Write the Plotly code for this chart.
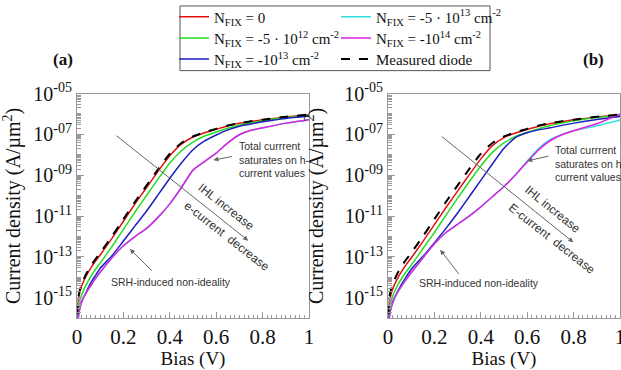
import plotly.graph_objects as go

# ---------------- data (log10 of current density, A/um^2) ----------------
bias_v = [0.001, 0.002, 0.005, 0.01, 0.02, 0.04, 0.06, 0.08, 0.1, 0.15, 0.2, 0.25,
          0.3, 0.35, 0.4, 0.45, 0.5, 0.55, 0.6, 0.65, 0.7, 0.75, 0.8, 0.9, 1.0]

measured_log = [-15.8, -15.5, -15.05, -14.72, -14.32, -13.82, -13.43, -13.1, -12.8, -12.0, -11.15, -10.3,
                -9.5, -8.7, -7.95, -7.42, -7.1, -6.9, -6.73, -6.57, -6.45, -6.36, -6.28, -6.14, -6.03]

# panel (a)
red_a_log = [-15.9, -15.6, -15.15, -14.82, -14.42, -13.92, -13.53, -13.2, -12.9, -12.1, -11.25, -10.4,
             -9.6, -8.8, -8.05, -7.48, -7.13, -6.92, -6.75, -6.59, -6.46, -6.37, -6.29, -6.15, -6.04]
green_a_log = [-16.3, -16.0, -15.6, -15.25, -14.85, -14.35, -13.95, -13.6, -13.3, -12.5, -11.65, -10.8,
               -9.98, -9.18, -8.4, -7.8, -7.38, -7.08, -6.88, -6.7, -6.55, -6.44, -6.33, -6.18, -6.06]
blue_a_log = [-16.7, -16.4, -15.95, -15.6, -15.2, -14.7, -14.25, -13.9, -13.55, -12.95, -12.22, -11.48,
              -10.75, -9.95, -9.15, -8.4, -7.75, -7.32, -7.03, -6.78, -6.6, -6.49, -6.38, -6.22, -6.1]
cyan_a_log = [-16.8, -16.5, -16.05, -15.65, -15.2, -14.75, -14.4, -14.05, -13.75, -13.05, -12.45, -12.0,
              -11.6, -11.05, -10.4, -9.6, -8.75, -8.33, -7.92, -7.42, -7.02, -6.8, -6.68, -6.45, -6.28]
magenta_a_log = [-16.8, -16.5, -16.05, -15.65, -15.2, -14.75, -14.4, -14.05, -13.75, -13.05, -12.45, -12.0,
                 -11.6, -11.05, -10.4, -9.6, -8.75, -8.33, -7.92, -7.42, -7.02, -6.8, -6.68, -6.45, -6.28]

# panel (b)
red_b_log = [-16.05, -15.75, -15.3, -14.97, -14.57, -14.07, -13.68, -13.35, -13.05, -12.25, -11.42, -10.58,
             -9.78, -8.98, -8.2, -7.55, -7.16, -6.93, -6.76, -6.6, -6.47, -6.38, -6.29, -6.15, -6.04]
green_b_log = [-16.4, -16.1, -15.65, -15.32, -14.92, -14.42, -14.03, -13.7, -13.4, -12.6, -11.8, -10.95,
               -10.12, -9.32, -8.55, -7.88, -7.42, -7.1, -6.9, -6.72, -6.57, -6.45, -6.34, -6.18, -6.06]
blue_b_log = [-16.75, -16.45, -16.0, -15.65, -15.25, -14.72, -14.3, -13.95, -13.6, -12.98, -12.3, -11.6,
              -10.85, -10.05, -9.25, -8.45, -7.68, -7.15, -6.92, -6.78, -6.68, -6.56, -6.45, -6.27, -6.12]
cyan_b_log = [-16.8, -16.5, -16.05, -15.65, -15.2, -14.75, -14.4, -14.07, -13.77, -13.05, -12.35, -11.8,
              -11.4, -11.0, -10.55, -10.05, -9.55, -8.98, -8.3, -7.68, -7.25, -7.0, -6.82, -6.58, -6.3]
magenta_b_log = [-16.8, -16.5, -16.05, -15.65, -15.2, -14.75, -14.4, -14.07, -13.77, -13.05, -12.35, -11.8,
                 -11.4, -11.0, -10.55, -10.05, -9.55, -8.98, -8.35, -7.75, -7.3, -7.02, -6.82, -6.48, -6.0]

series_names = [
    "N<sub>FIX</sub> = 0",
    "N<sub>FIX</sub> = -5 · 10<sup>12</sup> cm<sup>-2</sup>",
    "N<sub>FIX</sub> = -10<sup>13</sup> cm<sup>-2</sup>",
    "N<sub>FIX</sub> = -5 · 10<sup>13</sup> cm<sup>-2</sup>",
    "N<sub>FIX</sub> = -10<sup>14</sup> cm<sup>-2</sup>",
    "Measured diode",
]
y_tick_exponents = [-5, -7, -9, -11, -13, -15]
y_tick_labels = ["10<sup>-05</sup>", "10<sup>-07</sup>", "10<sup>-09</sup>",
                 "10<sup>-11</sup>", "10<sup>-13</sup>", "10<sup>-15</sup>"]
x_tick_values = [0, 0.2, 0.4, 0.6, 0.8, 1]
x_tick_labels = ["0", "0.2", "0.4", "0.6", "0.8", "1"]

# ---------------- styling ----------------
W, H = 621, 370
SERIF = "Liberation Serif"
SANS = "Liberation Sans"
colors = ["#e01010", "#22dd22", "#1c1cc0", "#33e0e0", "#e020e0", "#000000"]
legend_ids = ["legend", "legend2", "legend3", "legend4", "legend5", "legend6"]
# legend cell positions (px): column left, row centre
legend_pos = [(174, 15), (174, 36.5), (174, 57.5), (336, 15), (336, 36.5), (336, 57.5)]

fig = go.Figure()

panels = [
    ("x", "y", [red_a_log, green_a_log, blue_a_log, cyan_a_log, magenta_a_log, measured_log], True),
    ("x2", "y2", [red_b_log, green_b_log, blue_b_log, cyan_b_log, magenta_b_log, measured_log], False),
]
for xa, ya, logs, show in panels:
    for i, lg in enumerate(logs):
        is_meas = (i == 5)
        fig.add_trace(go.Scatter(
            x=bias_v, y=[10 ** v for v in lg], mode="lines",
            name=series_names[i], legend=legend_ids[i], showlegend=show,
            xaxis=xa, yaxis=ya,
            line=dict(color=colors[i], width=2 if is_meas else 1.5,
                      dash="dash" if is_meas else "solid", shape="spline", smoothing=0.5),
        ))

major_y = [10.0 ** e for e in y_tick_exponents]
minor_y = [m * 10.0 ** e for e in range(-16, -5) for m in range(1, 10) if not (m == 1 and e in y_tick_exponents)]

AX_COLOR = "#999999"
def xaxis(domain, anchor):
    return dict(domain=domain, anchor=anchor, range=[0, 1], tickvals=x_tick_values, ticktext=x_tick_labels,
                ticks="inside", ticklen=6, tickcolor=AX_COLOR, showline=True, linecolor=AX_COLOR,
                mirror=True, showgrid=False, zeroline=False, ticklabeloverflow="allow",
                minor=dict(dtick=0.02, ticks="inside", ticklen=3, tickcolor=AX_COLOR, showgrid=False),
                tickfont=dict(family=SERIF, size=21, color="#111"),
                title=dict(text="Bias (V)", font=dict(family=SERIF, size=19, color="#111")),
                automargin=False)

def yaxis(domain, anchor):
    return dict(domain=domain, anchor=anchor, type="log", range=[-16, -5],
                tickvals=major_y, ticktext=y_tick_labels, ticklabeloverflow="allow",
                ticks="inside", ticklen=7, tickcolor=AX_COLOR, showline=True, linecolor=AX_COLOR,
                mirror=True, showgrid=False, zeroline=False,
                minor=dict(tickmode="array", tickvals=minor_y, ticks="inside", ticklen=4,
                           tickcolor=AX_COLOR, showgrid=False),
                tickfont=dict(family=SERIF, size=20, color="#111"),
                title=dict(text="Current density (A/µm<sup>2</sup>)", font=dict(family=SERIF, size=20, color="#111")),
                automargin=False)

ydom = [1 - 318 / H, 1 - 92 / H]
layout = dict(
    width=W, height=H, margin=dict(l=0, r=0, t=0, b=0),
    paper_bgcolor="white", plot_bgcolor="white",
    xaxis=xaxis([77 / W, 309 / W], "y"),
    yaxis=yaxis(ydom, "x"),
    xaxis2=xaxis([388 / W, 620 / W], "y2"),
    yaxis2=yaxis(ydom, "x2"),
    showlegend=True,
)
for lid, (lx, ly) in zip(legend_ids, legend_pos):
    layout[lid] = dict(x=lx / W, y=1 - ly / H, xanchor="left", yanchor="middle", bgcolor="rgba(0,0,0,0)",
                       font=dict(family=SERIF, size=15, color="#111"), itemwidth=30)
fig.update_layout(**layout)

# legend frame
fig.add_shape(type="rect", xref="paper", yref="paper", x0=180 / W, x1=490 / W, y0=1 - 69 / H, y1=1 - 4 / H,
              line=dict(color="#555", width=1), fillcolor="rgba(0,0,0,0)", layer="below")

# panel labels
for txt, px in [("(a)", 63), ("(b)", 593)]:
    fig.add_annotation(text="<b>%s</b>" % txt, xref="paper", yref="paper", x=px / W, y=1 - 58 / H,
                       xanchor="center", yanchor="middle",
                       showarrow=False, font=dict(family=SERIF, size=17, color="#111"))

TXT = dict(family=SANS, size=10.5, color="#333")
ROT = dict(family=SANS, size=12, color="#333")
ARW = "#666"

def arrow(xr, yr, x_head, y_head, x_tail, y_tail, head=2):
    fig.add_annotation(xref=xr, yref=yr, axref=xr, ayref=yr, x=x_head, y=y_head, ax=x_tail, ay=y_tail,
                       text="", showarrow=True, arrowhead=head, arrowsize=1, arrowwidth=1, arrowcolor=ARW)

def text(xr, yr, x, y, t, font, angle=0, xanchor="center", align="center"):
    fig.add_annotation(xref=xr, yref=yr, x=x, y=y, text=t, showarrow=False, font=font, textangle=angle,
                       xanchor=xanchor, align=align)

# panel (a) annotations
arrow("x", "y", 0.738, -12.2, 0.164, -7.01)
text("x", "y", 0.645, -10.53, "IHL increase", ROT, 38)
text("x", "y", 0.645, -11.96, "e-current  decrease", ROT, 38)
text("x", "y", 0.69, -8.21, "Total currrent<br>saturates on h-<br>current values", TXT, 0, "left", "left")
arrow("x", "y", 0.588, -8.26, 0.674, -8.07)
arrow("x", "y", 0.228, -12.61, 0.329, -13.75)
text("x", "y", 0.404, -14.23, "SRH-induced non-ideality", TXT)

# panel (b) annotations
arrow("x2", "y2", 0.799, -12.28, 0.225, -7.04)
text("x2", "y2", 0.708, -10.66, "IHL increase", ROT, 39)
text("x2", "y2", 0.708, -12.12, "E-current  decrease", ROT, 38)
text("x2", "y2", 0.713, -8.44, "Total currrent<br>saturates on h-<br>current values", TXT, 0, "left", "left")
arrow("x2", "y2", 0.60, -8.3, 0.698, -8.05)
arrow("x2", "y2", 0.225, -12.65, 0.31, -13.9)
text("x2", "y2", 0.392, -14.26, "SRH-induced non-ideality", TXT)

fig.write_html("out.html", config={"displayModeBar": False},
               post_script="document.body.style.margin='0';document.body.style.padding='0';")
